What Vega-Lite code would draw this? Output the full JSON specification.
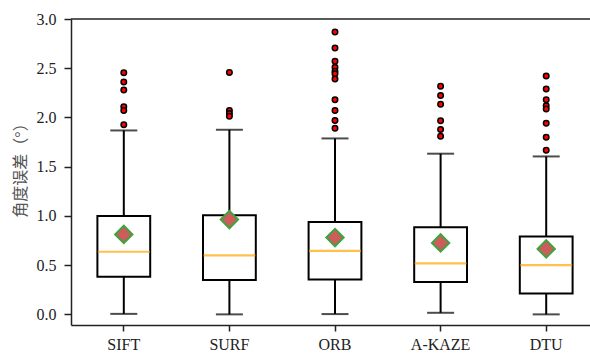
{
  "$schema": "https://vega.github.io/schema/vega-lite/v6.json",
  "width": 519,
  "height": 306,
  "autosize": {"type": "none"},
  "padding": {"left": 71, "top": 19, "right": 0, "bottom": 29},
  "background": "white",
  "config": {"view": {"stroke": null}, "font": "Liberation Serif"},
  "datasets": {
    "boxes": [
      {"method": "SIFT", "low": 0.005, "q1": 0.383, "median": 0.636, "q3": 0.998, "high": 1.868, "mean": 0.812},
      {"method": "SURF", "low": 0.0, "q1": 0.348, "median": 0.6, "q3": 1.006, "high": 1.875, "mean": 0.963},
      {"method": "ORB", "low": 0.003, "q1": 0.355, "median": 0.645, "q3": 0.939, "high": 1.787, "mean": 0.78},
      {"method": "A-KAZE", "low": 0.016, "q1": 0.33, "median": 0.517, "q3": 0.885, "high": 1.632, "mean": 0.726},
      {"method": "DTU", "low": 0.0, "q1": 0.213, "median": 0.5, "q3": 0.79, "high": 1.604, "mean": 0.665}
    ],
    "outliers": [
      {"method": "SIFT", "value": 2.455}, {"method": "SIFT", "value": 2.36}, {"method": "SIFT", "value": 2.28},
      {"method": "SIFT", "value": 2.11}, {"method": "SIFT", "value": 2.07}, {"method": "SIFT", "value": 1.925},
      {"method": "SURF", "value": 2.456}, {"method": "SURF", "value": 2.07}, {"method": "SURF", "value": 2.04}, {"method": "SURF", "value": 2.013},
      {"method": "ORB", "value": 2.868}, {"method": "ORB", "value": 2.706}, {"method": "ORB", "value": 2.57}, {"method": "ORB", "value": 2.51},
      {"method": "ORB", "value": 2.47}, {"method": "ORB", "value": 2.443}, {"method": "ORB", "value": 2.39}, {"method": "ORB", "value": 2.18},
      {"method": "ORB", "value": 2.07}, {"method": "ORB", "value": 1.97}, {"method": "ORB", "value": 1.89},
      {"method": "A-KAZE", "value": 2.317}, {"method": "A-KAZE", "value": 2.222}, {"method": "A-KAZE", "value": 2.134},
      {"method": "A-KAZE", "value": 1.966}, {"method": "A-KAZE", "value": 1.878}, {"method": "A-KAZE", "value": 1.81},
      {"method": "DTU", "value": 2.42}, {"method": "DTU", "value": 2.29}, {"method": "DTU", "value": 2.18}, {"method": "DTU", "value": 2.12},
      {"method": "DTU", "value": 2.085}, {"method": "DTU", "value": 1.94}, {"method": "DTU", "value": 1.8}, {"method": "DTU", "value": 1.668}
    ]
  },
  "layer": [
    {
      "data": {"name": "boxes"},
      "mark": {"type": "rule", "color": "black", "strokeWidth": 2},
      "encoding": {
        "x": {
          "field": "method",
          "type": "nominal",
          "sort": ["SIFT", "SURF", "ORB", "A-KAZE", "DTU"],
          "scale": {"range": [0, 528], "paddingInner": 0, "paddingOuter": 0},
          "axis": {
            "title": null,
            "labelAngle": 0,
            "labelFont": "Liberation Serif",
            "labelFontSize": 16,
            "labelColor": "#222",
            "labelPadding": 5,
            "tickSize": 6,
            "tickColor": "#222",
            "tickWidth": 1.5,
            "domainColor": "#222",
            "domainWidth": 1.5,
            "grid": false
          }
        },
        "y": {
          "field": "low",
          "type": "quantitative",
          "scale": {"domain": [-0.108, 3.0], "nice": false, "zero": false},
          "axis": {
            "title": "角度误差（°）",
            "titleFont": "Liberation Serif, Noto Sans CJK SC",
            "titleFontSize": 16,
            "titleFontWeight": "normal",
            "titleColor": "#555",
            "titleAngle": -90,
            "titleAlign": "center",
            "titleBaseline": "middle",
            "titleX": -51,
            "titleY": 147,
            "values": [0, 0.5, 1, 1.5, 2, 2.5, 3],
            "format": ".1f",
            "labelFont": "Liberation Serif",
            "labelFontSize": 16,
            "labelColor": "#222",
            "labelPadding": 8,
            "tickSize": 7,
            "tickColor": "#222",
            "tickWidth": 1.5,
            "domainColor": "#222",
            "domainWidth": 1.5,
            "grid": false
          }
        },
        "y2": {"field": "q1"}
      }
    },
    {
      "data": {"name": "boxes"},
      "mark": {"type": "rule", "color": "black", "strokeWidth": 2},
      "encoding": {
        "x": {"field": "method", "type": "nominal", "sort": ["SIFT", "SURF", "ORB", "A-KAZE", "DTU"]},
        "y": {"field": "q3", "type": "quantitative"},
        "y2": {"field": "high"}
      }
    },
    {
      "data": {"name": "boxes"},
      "mark": {"type": "bar", "fill": "white", "stroke": "black", "strokeWidth": 2, "width": {"band": 0.5}},
      "encoding": {
        "x": {"field": "method", "type": "nominal", "sort": ["SIFT", "SURF", "ORB", "A-KAZE", "DTU"]},
        "y": {"field": "q1", "type": "quantitative"},
        "y2": {"field": "q3"}
      }
    },
    {
      "data": {"name": "boxes"},
      "mark": {"type": "tick", "color": "#FFA500", "size": 52, "thickness": 2.2},
      "encoding": {
        "x": {"field": "method", "type": "nominal", "sort": ["SIFT", "SURF", "ORB", "A-KAZE", "DTU"]},
        "y": {"field": "median", "type": "quantitative"}
      }
    },
    {
      "data": {"name": "boxes"},
      "mark": {"type": "tick", "color": "black", "size": 27, "thickness": 2},
      "encoding": {
        "x": {"field": "method", "type": "nominal", "sort": ["SIFT", "SURF", "ORB", "A-KAZE", "DTU"]},
        "y": {"field": "low", "type": "quantitative"}
      }
    },
    {
      "data": {"name": "boxes"},
      "mark": {"type": "tick", "color": "black", "size": 27, "thickness": 2},
      "encoding": {
        "x": {"field": "method", "type": "nominal", "sort": ["SIFT", "SURF", "ORB", "A-KAZE", "DTU"]},
        "y": {"field": "high", "type": "quantitative"}
      }
    },
    {
      "data": {"name": "outliers"},
      "mark": {"type": "point", "shape": "circle", "filled": true, "fill": "#ff0000", "stroke": "black", "strokeWidth": 1.5, "size": 30, "opacity": 1},
      "encoding": {
        "x": {"field": "method", "type": "nominal", "sort": ["SIFT", "SURF", "ORB", "A-KAZE", "DTU"]},
        "y": {"field": "value", "type": "quantitative"}
      }
    },
    {
      "data": {"name": "boxes"},
      "mark": {"type": "point", "shape": "diamond", "filled": true, "fill": "#cd5c5c", "stroke": "#3fa33f", "strokeWidth": 2, "size": 300, "opacity": 1},
      "encoding": {
        "x": {"field": "method", "type": "nominal", "sort": ["SIFT", "SURF", "ORB", "A-KAZE", "DTU"]},
        "y": {"field": "mean", "type": "quantitative"}
      }
    },
    {
      "data": {"values": [{"top": 3.0}]},
      "mark": {"type": "rule", "color": "#222", "strokeWidth": 1.5},
      "encoding": {"y": {"field": "top", "type": "quantitative"}}
    }
  ]
}
